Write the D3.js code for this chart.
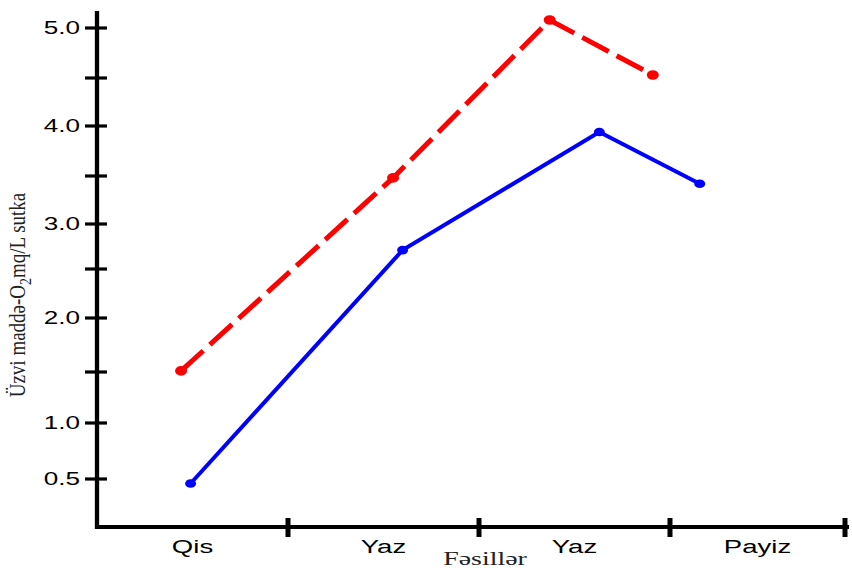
<!DOCTYPE html>
<html>
<head>
<meta charset="utf-8">
<script src="https://cdn.jsdelivr.net/npm/d3@7"></script>
<style>
  html, body { margin: 0; padding: 0; background: #fff; }
  svg { display: block; }
</style>
</head>
<body>
<svg id="chart" width="852" height="569"></svg>
<script>
// Seasons along the x axis (category slots 0..4)
const seasons = ["Qis", "Yaz", "Yaz", "Payiz"];
const seasonBounds = [1, 2, 3, 4];

// Y axis ticks
const majorTicks = [0.5, 1.0, 2.0, 3.0, 4.0, 5.0];
const minorTicks = [1.5, 2.5, 3.5, 4.5];

// Series: position within the season slots and value (mg O2/L per day)
const redX = [0.44, 1.55, 2.37, 2.91];
const redY = [1.51, 3.48, 5.08, 4.53];
const blueX = [0.49, 1.60, 2.63, 3.17];
const blueY = [0.46, 2.71, 3.94, 3.42];

const svg = d3.select("#chart");

// Scales (piecewise to follow the printed tick spacing)
const x = d3.scaleLinear()
  .domain([0, 1, 2, 3, 4])
  .range([97, 288, 479, 670, 845]);
const y = d3.scaleLinear()
  .domain([0.5, 1, 1.5, 2, 2.5, 3, 3.5, 4, 4.5, 5])
  .range([479, 423, 372, 318, 269, 224, 176, 126, 78, 28]);
const y0 = 527;
const yTop = 11;
const stretch = 1.45;

// Y axis line
svg.append("line")
  .attr("x1", x(0)).attr("x2", x(0))
  .attr("y1", yTop).attr("y2", y0 + 2)
  .attr("stroke", "#000").attr("stroke-width", 4.3);

// Y ticks crossing the axis
svg.append("g").selectAll("line")
  .data(majorTicks.concat(minorTicks))
  .join("line")
  .attr("x1", x(0) - 12).attr("x2", x(0) + 10)
  .attr("y1", d => y(d)).attr("y2", d => y(d))
  .attr("stroke", "#000").attr("stroke-width", 3.2);

// Y tick labels
svg.append("g").selectAll("text")
  .data(majorTicks)
  .join("text")
  .attr("transform", d => `translate(${x(0) - 17},${y(d)}) scale(${stretch},1)`)
  .attr("text-anchor", "end")
  .attr("dy", "0.36em")
  .attr("font-family", "Liberation Sans, Arial, sans-serif")
  .attr("font-size", 18)
  .attr("fill", "#000")
  .text(d3.format(".1f"));

// X axis line
svg.append("line")
  .attr("x1", x(0) - 2).attr("x2", 849)
  .attr("y1", y0).attr("y2", y0)
  .attr("stroke", "#000").attr("stroke-width", 4);

// X ticks at season boundaries
svg.append("g").selectAll("line")
  .data(seasonBounds)
  .join("line")
  .attr("x1", d => x(d)).attr("x2", d => x(d))
  .attr("y1", y0 - 9).attr("y2", y0 + 10)
  .attr("stroke", "#000").attr("stroke-width", 5);

// Season labels centred in their slots
svg.append("g").selectAll("text")
  .data(seasons)
  .join("text")
  .attr("transform", (d, i) => `translate(${x(i + 0.5)},${553}) scale(${stretch},1)`)
  .attr("text-anchor", "middle")
  .attr("font-family", "Liberation Sans, Arial, sans-serif")
  .attr("font-size", 19)
  .attr("fill", "#000")
  .text(d => d);

// X axis title
svg.append("text")
  .attr("transform", `translate(485,565) scale(1.55,1)`)
  .attr("text-anchor", "middle")
  .attr("font-family", "Liberation Serif, Times New Roman, serif")
  .attr("font-size", 18)
  .attr("fill", "#222")
  .text("Fəsillər");

// Y axis title
const yTitle = svg.append("text")
  .attr("transform", `translate(25,295) rotate(-90) scale(1,1.2)`)
  .attr("text-anchor", "middle")
  .attr("font-family", "Liberation Serif, Times New Roman, serif")
  .attr("font-size", 19)
  .attr("fill", "#222");
yTitle.append("tspan").text("Üzvi maddə-O");
yTitle.append("tspan").attr("font-size", 14).attr("dy", 5).text("2");
yTitle.append("tspan").attr("dy", -5).text("mq/L sutka");

// Series
const line = d3.line().x(d => x(d[0])).y(d => y(d[1]));
const redPts = d3.zip(redX, redY);
const bluePts = d3.zip(blueX, blueY);

svg.append("path")
  .datum(redPts)
  .attr("d", line)
  .attr("fill", "none")
  .attr("stroke", "#ff0000")
  .attr("stroke-width", 5)
  .attr("stroke-dasharray", "30,9");

svg.append("g").selectAll("ellipse")
  .data(redPts)
  .join("ellipse")
  .attr("cx", d => x(d[0])).attr("cy", d => y(d[1]))
  .attr("rx", 6).attr("ry", 4.8)
  .attr("fill", "#ff0000");

svg.append("path")
  .datum(bluePts)
  .attr("d", line)
  .attr("fill", "none")
  .attr("stroke", "#0000ff")
  .attr("stroke-width", 4);

svg.append("g").selectAll("ellipse")
  .data(bluePts)
  .join("ellipse")
  .attr("cx", d => x(d[0])).attr("cy", d => y(d[1]))
  .attr("rx", 5.5).attr("ry", 4.3)
  .attr("fill", "#0000ff");
</script>
</body>
</html>
